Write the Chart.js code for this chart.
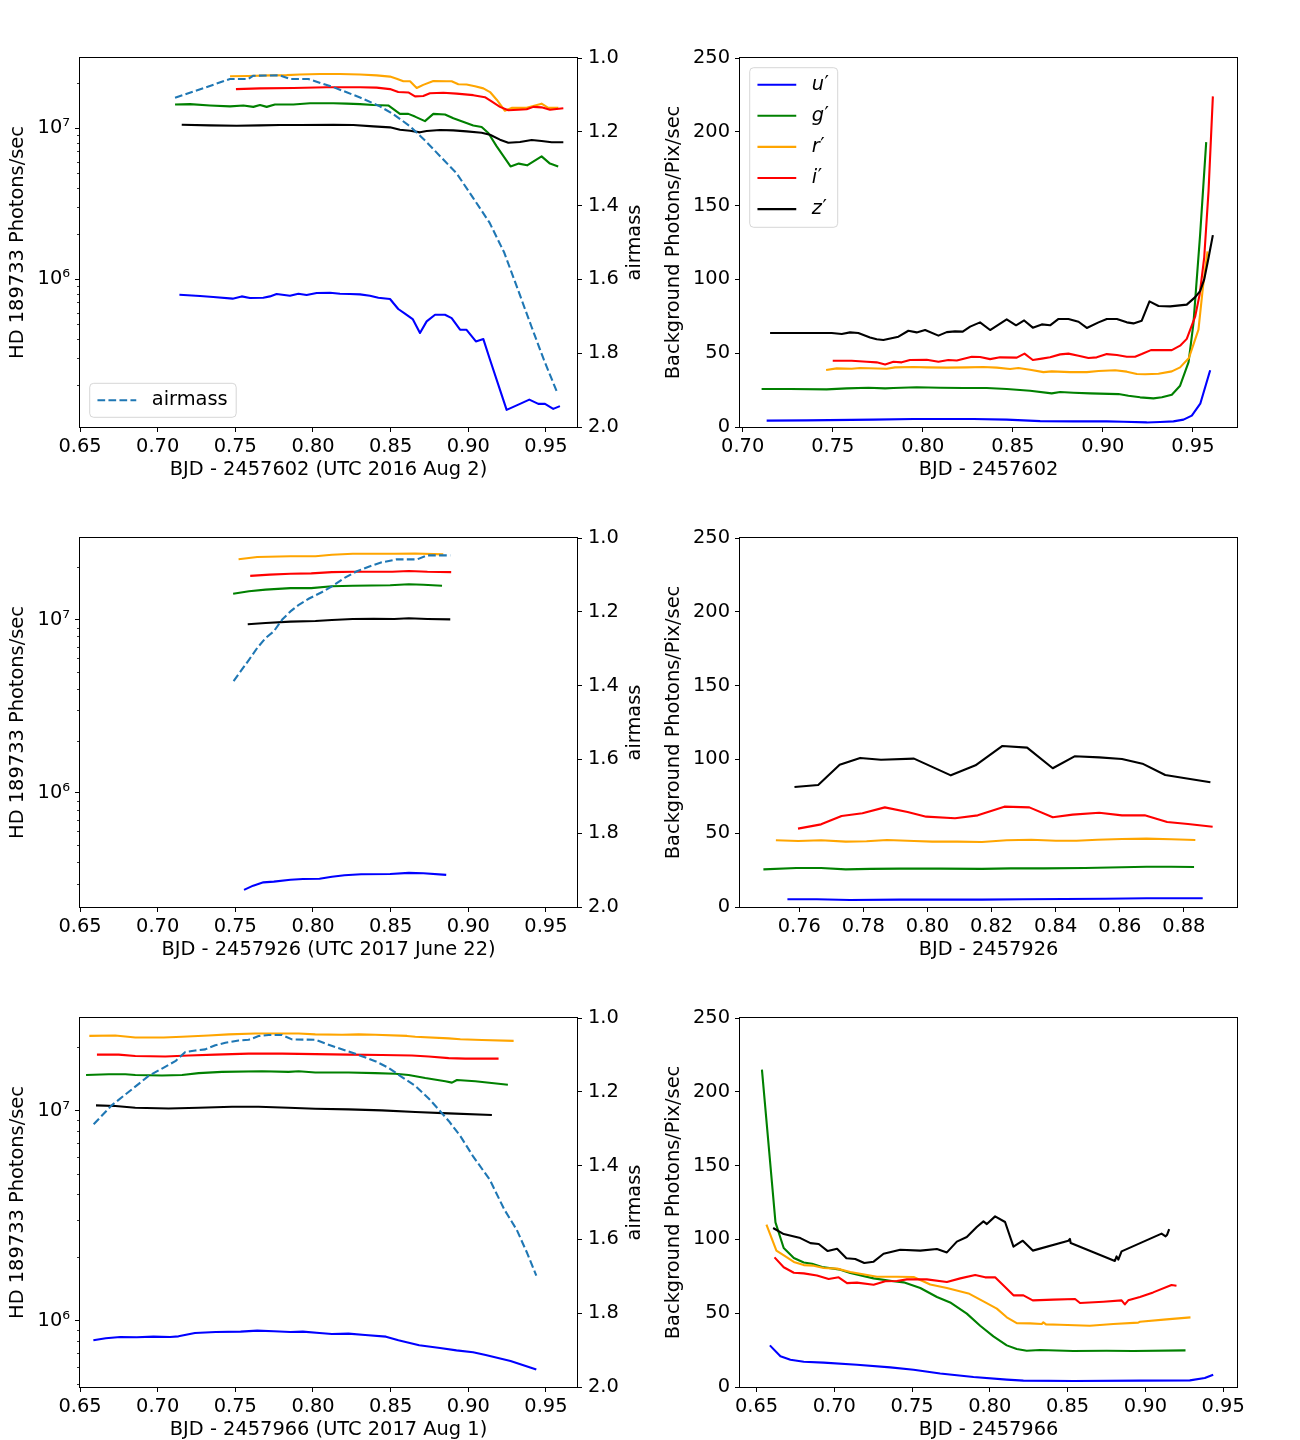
<!DOCTYPE html>
<html>
<head>
<meta charset="utf-8">
<title>HD 189733 photometry and background</title>
<script src="https://cdn.jsdelivr.net/npm/chart.js@4.4.1/dist/chart.umd.min.js"></script>
<style>
  html, body { margin: 0; padding: 0; background: #ffffff; overflow: hidden; }
  #fig { position: relative; width: 1300px; height: 1440px; background: #ffffff; overflow: hidden; }
  #fig canvas { position: absolute; }
</style>
</head>
<body>
<div id="fig">
  <canvas id="cA" width="660" height="448" style="left:0px;top:38px;width:660px;height:448px"></canvas>
  <canvas id="cB" width="640" height="448" style="left:660px;top:38px;width:640px;height:448px"></canvas>
  <canvas id="cC" width="660" height="448" style="left:0px;top:518px;width:660px;height:448px"></canvas>
  <canvas id="cD" width="640" height="448" style="left:660px;top:518px;width:640px;height:448px"></canvas>
  <canvas id="cE" width="660" height="448" style="left:0px;top:998px;width:660px;height:448px"></canvas>
  <canvas id="cF" width="640" height="448" style="left:660px;top:998px;width:640px;height:448px"></canvas>
</div>
<script>
// ======================= DATA =======================
// ---- Panel A: HD 189733 flux, BJD - 2457602 (UTC 2016 Aug 2) ----
const A_airmass_x = [0.7112,0.7466,0.7584,0.7616,0.7788,0.7852,0.7970,0.8131,0.8217,0.8303,0.8431,0.8517,0.8625,0.8732,0.8850,0.8924,0.9031,0.9138,0.9232,0.9312,0.9406,0.9486,0.9569];
const A_airmass   = [1.108,1.057,1.057,1.048,1.047,1.057,1.057,1.079,1.093,1.107,1.131,1.152,1.185,1.228,1.280,1.312,1.379,1.447,1.528,1.619,1.727,1.817,1.903];
const A_u_x = [0.7140,0.7273,0.7358,0.7483,0.7541,0.7594,0.7680,0.7723,0.7766,0.7852,0.7906,0.7959,0.8024,0.8110,0.8174,0.8238,0.8303,0.8367,0.8421,0.8496,0.8549,0.8592,0.8642,0.8689,0.8732,0.8786,0.8850,0.8893,0.8947,0.8989,0.9049,0.9097,0.9140,0.9247,0.9333,0.9393,0.9451,0.9494,0.9547,0.9590];
const A_u   = [7.87e5,7.71e5,7.60e5,7.41e5,7.67e5,7.48e5,7.52e5,7.67e5,7.95e5,7.75e5,7.99e5,7.83e5,8.07e5,8.11e5,7.99e5,7.95e5,7.91e5,7.75e5,7.52e5,7.37e5,6.33e5,5.89e5,5.43e5,4.39e5,5.24e5,5.80e5,5.80e5,5.51e5,4.62e5,4.61e5,3.86e5,4.00e5,2.92e5,1.36e5,1.49e5,1.59e5,1.49e5,1.49e5,1.38e5,1.44e5];
const A_g_x = [0.7112,0.7208,0.7337,0.7466,0.7552,0.7616,0.7659,0.7702,0.7755,0.7874,0.7981,0.8131,0.8217,0.8303,0.8389,0.8485,0.8560,0.8614,0.8657,0.8721,0.8775,0.8850,0.8904,0.8957,0.9032,0.9086,0.9129,0.9183,0.9272,0.9325,0.9379,0.9472,0.9526,0.9579];
const A_g   = [1.43e7,1.44e7,1.41e7,1.39e7,1.41e7,1.38e7,1.42e7,1.38e7,1.43e7,1.43e7,1.46e7,1.46e7,1.45e7,1.44e7,1.42e7,1.41e7,1.24e7,1.24e7,1.19e7,1.11e7,1.24e7,1.23e7,1.16e7,1.11e7,1.04e7,1.015e7,9.27e6,7.56e6,5.57e6,5.81e6,5.66e6,6.49e6,5.81e6,5.57e6];
const A_r_x = [0.7466,0.7584,0.7723,0.7831,0.7916,0.8045,0.8174,0.8303,0.8410,0.8496,0.8539,0.8582,0.8625,0.8668,0.8710,0.8775,0.8861,0.8893,0.8936,0.8989,0.9043,0.9097,0.9140,0.9183,0.9236,0.9279,0.9333,0.9376,0.9419,0.9472,0.9515,0.9580];
const A_r   = [2.20e7,2.21e7,2.23e7,2.24e7,2.26e7,2.28e7,2.28e7,2.26e7,2.23e7,2.19e7,2.12e7,2.04e7,2.04e7,1.84e7,1.93e7,2.05e7,2.04e7,2.04e7,1.95e7,1.94e7,1.89e7,1.83e7,1.73e7,1.54e7,1.30e7,1.36e7,1.36e7,1.36e7,1.40e7,1.45e7,1.36e7,1.36e7];
const A_i_x = [0.7504,0.7659,0.7874,0.8088,0.8303,0.8410,0.8496,0.8549,0.8614,0.8657,0.8710,0.8753,0.8839,0.8925,0.9032,0.9107,0.9150,0.9204,0.9258,0.9322,0.9376,0.9419,0.9472,0.9526,0.9612];
const A_i   = [1.81e7,1.83e7,1.84e7,1.86e7,1.86e7,1.85e7,1.81e7,1.73e7,1.72e7,1.62e7,1.63e7,1.70e7,1.71e7,1.69e7,1.65e7,1.60e7,1.50e7,1.38e7,1.31e7,1.32e7,1.33e7,1.38e7,1.37e7,1.32e7,1.35e7];
const A_z_x = [0.7155,0.7337,0.7509,0.7659,0.7788,0.7916,0.8131,0.8260,0.8389,0.8496,0.8560,0.8625,0.8689,0.8732,0.8818,0.8904,0.8989,0.9086,0.9140,0.9204,0.9258,0.9333,0.9408,0.9472,0.9537,0.9612];
const A_z   = [1.052e7,1.041e7,1.036e7,1.041e7,1.046e7,1.046e7,1.052e7,1.046e7,1.025e7,1.010e7,9.74e6,9.60e6,9.36e6,9.55e6,9.70e6,9.65e6,9.50e6,9.31e6,9.03e6,8.37e6,7.99e6,8.07e6,8.32e6,8.20e6,8.04e6,8.04e6];

// ---- Panel B: background, BJD - 2457602 ----
const B_u_x = [0.7133,0.7355,0.7726,0.7948,0.8281,0.8466,0.8652,0.8837,0.9022,0.9115,0.9244,0.9318,0.9392,0.9448,0.9494,0.9541,0.9596];
const B_u   = [4.3,4.5,5.0,5.4,5.4,5.0,4.0,3.8,3.8,3.6,3.1,3.4,3.8,5.0,7.7,15.8,38.4];
const B_g_x = [0.7105,0.7263,0.7466,0.7578,0.7698,0.7791,0.7837,0.7966,0.8096,0.8226,0.8355,0.8466,0.8596,0.8716,0.8763,0.8837,0.8929,0.9087,0.9142,0.9207,0.9281,0.9328,0.9383,0.9429,0.9476,0.9503,0.9540,0.9574];
const B_g   = [25.7,25.7,25.5,26.2,26.6,26.2,26.4,26.9,26.6,26.4,26.4,25.7,24.6,22.8,23.7,23.2,22.8,22.3,21.2,20.1,19.4,20.1,21.9,28.0,44,70,130,193];
const B_r_x = [0.7463,0.7522,0.7605,0.7652,0.7800,0.7846,0.7948,0.8022,0.8133,0.8244,0.8337,0.8411,0.8485,0.8531,0.8596,0.8670,0.8716,0.8818,0.8911,0.8976,0.9068,0.9133,0.9189,0.9235,0.9309,0.9383,0.9429,0.9478,0.9531,0.9556,0.9581];
const B_r   = [38.6,39.7,39.5,40.0,39.5,40.4,40.6,40.4,40.2,40.4,40.6,40.2,39.3,40.0,38.8,37.2,37.7,37.2,37.2,37.9,38.4,37.5,35.9,35.7,36.1,37.7,40.4,46.8,66,95,119];
const B_i_x = [0.7500,0.7605,0.7689,0.7744,0.7791,0.7837,0.7883,0.7929,0.8022,0.8087,0.8142,0.8189,0.8272,0.8318,0.8374,0.8429,0.8522,0.8565,0.8611,0.8661,0.8707,0.8763,0.8809,0.8865,0.8920,0.8966,0.9022,0.9078,0.9133,0.9179,0.9216,0.9267,0.9318,0.9383,0.9429,0.9466,0.9513,0.9538,0.9563,0.9587,0.9611];
const B_i   = [44.9,44.9,44.2,43.8,42.4,44.2,43.8,45.4,45.6,44.2,45.4,45.1,47.6,47.4,46.0,47.2,47.0,49.7,45.4,46.3,47.2,49.2,49.7,48.3,46.7,47.2,49.4,48.8,47.6,47.6,49.4,52.1,52.1,52.1,55.1,59.7,75,90,115,160,224];
const B_z_x = [0.7152,0.7494,0.7550,0.7596,0.7642,0.7707,0.7744,0.7781,0.7865,0.7920,0.7966,0.8013,0.8087,0.8133,0.8179,0.8222,0.8263,0.8318,0.8374,0.8466,0.8518,0.8563,0.8611,0.8661,0.8707,0.8754,0.8809,0.8865,0.8911,0.8976,0.9022,0.9078,0.9133,0.9170,0.9216,0.9259,0.9309,0.9374,0.9466,0.9513,0.9540,0.9563,0.9587,0.9611];
const B_z   = [63.7,63.7,63.0,64.1,63.7,60.7,59.4,58.9,61.2,65.2,64.1,65.7,61.9,64.3,64.8,64.6,68.0,70.9,65.7,72.9,68.9,72.2,67.3,69.5,68.9,73.2,73.2,71.3,67.1,70.9,73.2,73.2,70.9,70.2,72.0,85.1,82.0,81.7,82.9,88.0,92.1,100,114.7,130];

// ---- Panel C: HD 189733 flux, BJD - 2457926 (UTC 2017 June 22) ----
const C_airmass_x = [0.7489,0.7535,0.7588,0.7641,0.7695,0.7748,0.7802,0.7855,0.7909,0.7975,0.8056,0.8122,0.8203,0.8283,0.8363,0.8443,0.8537,0.8670,0.8737,0.8884];
const C_airmass   = [1.388,1.361,1.330,1.298,1.271,1.253,1.221,1.199,1.181,1.164,1.147,1.131,1.108,1.090,1.077,1.066,1.058,1.058,1.047,1.047];
const C_u_x = [0.7556,0.7615,0.7681,0.7748,0.7855,0.7935,0.8042,0.8122,0.8203,0.8310,0.8497,0.8617,0.8711,0.8858];
const C_u   = [2.76e5,2.92e5,3.05e5,3.08e5,3.16e5,3.19e5,3.20e5,3.29e5,3.35e5,3.40e5,3.41e5,3.46e5,3.44e5,3.37e5];
const C_g_x = [0.7486,0.7588,0.7695,0.7855,0.7989,0.8122,0.8256,0.8497,0.8617,0.8711,0.8831];
const C_g   = [1.41e7,1.46e7,1.49e7,1.52e7,1.52e7,1.56e7,1.57e7,1.58e7,1.60e7,1.59e7,1.57e7];
const C_r_x = [0.7521,0.7641,0.7855,0.8016,0.8122,0.8256,0.8523,0.8657,0.8839];
const C_r   = [2.23e7,2.30e7,2.32e7,2.32e7,2.37e7,2.40e7,2.40e7,2.41e7,2.38e7];
const C_i_x = [0.7596,0.7722,0.7855,0.7989,0.8122,0.8256,0.8510,0.8617,0.8737,0.8890];
const C_i   = [1.79e7,1.82e7,1.84e7,1.85e7,1.88e7,1.89e7,1.89e7,1.91e7,1.89e7,1.88e7];
const C_z_x = [0.7580,0.7695,0.7855,0.8016,0.8122,0.8256,0.8390,0.8523,0.8617,0.8737,0.8884];
const C_z   = [9.40e6,9.57e6,9.74e6,9.82e6,9.96e6,1.009e7,1.013e7,1.009e7,1.018e7,1.009e7,1.004e7];

// ---- Panel D: background, BJD - 2457926 ----
const D_u_x = [0.7563,0.7655,0.7758,0.7913,0.8170,0.8298,0.8427,0.8555,0.8684,0.8859];
const D_u   = [5.2,5.2,4.7,5.0,5.0,5.2,5.4,5.6,5.9,5.9];
const D_g_x = [0.7488,0.7591,0.7668,0.7745,0.7822,0.7913,0.8041,0.8170,0.8260,0.8363,0.8491,0.8607,0.8684,0.8761,0.8832];
const D_g   = [25.5,26.4,26.4,25.5,25.8,26.0,26.0,25.8,26.2,26.2,26.4,26.9,27.3,27.3,27.1];
const D_r_x = [0.7527,0.7597,0.7668,0.7745,0.7810,0.7874,0.7958,0.8015,0.8093,0.8170,0.8247,0.8324,0.8401,0.8465,0.8530,0.8607,0.8684,0.8761,0.8836];
const D_r   = [45.2,44.7,45.2,44.3,44.5,45.4,44.7,44.3,44.3,44.0,45.2,45.6,44.9,44.9,45.6,46.1,46.3,45.9,45.4];
const D_i_x = [0.7596,0.7668,0.7732,0.7797,0.7867,0.7938,0.7996,0.8086,0.8157,0.8240,0.8318,0.8391,0.8453,0.8536,0.8607,0.8678,0.8748,0.8813,0.8890];
const D_i   = [53.1,56.0,61.7,63.5,67.5,64.4,61.2,60.1,62.1,68.0,67.5,60.8,62.6,63.9,62.1,62.1,57.6,56.2,54.4];
const D_z_x = [0.7585,0.7659,0.7726,0.7790,0.7855,0.7958,0.8073,0.8150,0.8234,0.8311,0.8391,0.8459,0.8536,0.8607,0.8671,0.8742,0.8800,0.8883];
const D_z   = [81.3,82.7,96.4,101.0,99.8,100.5,89.2,96.0,109.1,108.0,94.0,102.1,101.4,100.3,97.1,89.4,87.4,84.5];

// ---- Panel E: HD 189733 flux, BJD - 2457966 (UTC 2017 Aug 1) ----
const E_airmass_x = [0.6588,0.6706,0.6835,0.6942,0.7028,0.7114,0.7178,0.7242,0.7307,0.7371,0.7436,0.7521,0.7586,0.7650,0.7715,0.7801,0.7865,0.8015,0.8144,0.8273,0.8401,0.8487,0.8573,0.8659,0.8745,0.8809,0.8874,0.8949,0.9031,0.9138,0.9232,0.9312,0.9379,0.9438];
const E_airmass   = [1.288,1.236,1.193,1.157,1.137,1.117,1.092,1.088,1.085,1.074,1.067,1.061,1.059,1.049,1.046,1.046,1.058,1.059,1.079,1.097,1.117,1.135,1.160,1.184,1.218,1.248,1.279,1.320,1.375,1.438,1.519,1.574,1.637,1.698];
const E_u_x = [0.6586,0.6666,0.6759,0.6866,0.6973,0.7080,0.7134,0.7240,0.7374,0.7534,0.7641,0.7748,0.7855,0.7935,0.8042,0.8122,0.8229,0.8336,0.8470,0.8550,0.8684,0.8818,0.8924,0.9031,0.9112,0.9272,0.9438];
const E_u   = [8.06e5,8.24e5,8.36e5,8.33e5,8.39e5,8.36e5,8.42e5,8.74e5,8.83e5,8.87e5,8.96e5,8.90e5,8.83e5,8.87e5,8.74e5,8.64e5,8.67e5,8.55e5,8.39e5,8.06e5,7.63e5,7.41e5,7.22e5,7.07e5,6.86e5,6.43e5,5.85e5];
const E_g_x = [0.6539,0.6685,0.6792,0.6856,0.7028,0.7157,0.7264,0.7414,0.7672,0.7843,0.7908,0.8015,0.8230,0.8401,0.8530,0.8616,0.8723,0.8852,0.8895,0.8927,0.9045,0.9255];
const E_g   = [1.48e7,1.49e7,1.49e7,1.48e7,1.47e7,1.48e7,1.51e7,1.53e7,1.54e7,1.53e7,1.54e7,1.52e7,1.52e7,1.51e7,1.50e7,1.48e7,1.43e7,1.38e7,1.36e7,1.40e7,1.38e7,1.33e7];
const E_r_x = [0.6560,0.6727,0.6856,0.7039,0.7157,0.7328,0.7457,0.7629,0.7801,0.7908,0.8015,0.8187,0.8294,0.8401,0.8605,0.8659,0.8874,0.8949,0.9088,0.9292];
const E_r   = [2.27e7,2.28e7,2.23e7,2.23e7,2.25e7,2.28e7,2.31e7,2.33e7,2.33e7,2.33e7,2.31e7,2.30e7,2.31e7,2.30e7,2.27e7,2.25e7,2.21e7,2.19e7,2.17e7,2.15e7];
const E_i_x = [0.6609,0.6749,0.6856,0.7049,0.7200,0.7371,0.7586,0.7801,0.8015,0.8230,0.8444,0.8637,0.8745,0.8874,0.8981,0.9195];
const E_i   = [1.85e7,1.85e7,1.82e7,1.81e7,1.83e7,1.85e7,1.87e7,1.87e7,1.86e7,1.85e7,1.84e7,1.83e7,1.81e7,1.78e7,1.77e7,1.77e7];
const E_z_x = [0.6603,0.6728,0.6856,0.7071,0.7264,0.7479,0.7650,0.7843,0.8015,0.8230,0.8444,0.8659,0.8874,0.9152];
const E_z   = [1.06e7,1.052e7,1.033e7,1.025e7,1.033e7,1.044e7,1.044e7,1.033e7,1.022e7,1.014e7,1.003e7,9.85e6,9.71e6,9.53e6];

// ---- Panel F: background, BJD - 2457966 ----
const F_u_x = [0.6586,0.6654,0.6718,0.6804,0.6932,0.7146,0.7360,0.7510,0.7681,0.7895,0.8109,0.8216,0.8537,0.8965,0.9286,0.9382,0.9436];
const F_u   = [28.2,20.8,18.5,17.1,16.5,15.1,13.3,11.7,9.2,6.8,5.0,4.3,4.1,4.3,4.5,6.1,8.3];
const F_g_x = [0.6535,0.6622,0.6675,0.6740,0.6804,0.6857,0.6922,0.7039,0.7103,0.7253,0.7381,0.7446,0.7553,0.7660,0.7745,0.7852,0.7938,0.8023,0.8109,0.8173,0.8237,0.8323,0.8537,0.8751,0.8922,0.9258];
const F_g   = [215,111.5,94.2,87.4,84.4,83.5,81.3,79.5,77.2,73.6,71.6,70.9,67.1,61.0,57.3,49.7,41.5,34.3,28.2,25.7,24.6,25.1,24.4,24.6,24.4,24.8];
const F_r_x = [0.6564,0.6628,0.6686,0.6740,0.6804,0.6868,0.6932,0.7018,0.7103,0.7275,0.7403,0.7510,0.7617,0.7724,0.7863,0.7959,0.8045,0.8109,0.8173,0.8259,0.8334,0.8344,0.8361,0.8451,0.8643,0.8794,0.8954,0.8965,0.9136,0.9290];
const F_r   = [110.0,92.4,88.5,84.7,82.6,82.2,80.6,80.2,77.9,74.7,74.7,74.5,69.5,67.1,63.4,58.0,53.1,47.2,43.3,43.1,42.7,43.8,42.4,42.2,41.5,42.7,43.6,44.2,45.8,47.2];
const F_i_x = [0.6616,0.6675,0.6740,0.6804,0.6889,0.6964,0.7028,0.7082,0.7146,0.7253,0.7328,0.7403,0.7467,0.7595,0.7724,0.7810,0.7906,0.7970,0.8034,0.8152,0.8216,0.8276,0.8408,0.8548,0.8580,0.8730,0.8847,0.8868,0.8890,0.8965,0.9050,0.9168,0.9200];
const F_i   = [87.8,81.1,77.4,77.0,75.6,73.2,74.3,70.4,70.7,69.3,71.6,71.8,72.9,72.9,71.1,73.6,75.9,74.3,74.3,62.1,62.1,58.7,59.2,59.6,56.9,57.8,58.7,56.0,58.7,61.0,64.1,69.1,68.6];
const F_z_x = [0.6607,0.6675,0.6782,0.6847,0.6900,0.6958,0.7018,0.7078,0.7135,0.7193,0.7253,0.7317,0.7424,0.7553,0.7660,0.7724,0.7788,0.7852,0.7916,0.7959,0.7981,0.8034,0.8098,0.8152,0.8212,0.8276,0.8505,0.8515,0.8520,0.8804,0.8815,0.8826,0.8847,0.9104,0.9130,0.9140,0.9153];
const F_z   = [107.7,103.6,100.9,97.5,96.9,92.1,93.7,87.2,86.7,84.0,84.9,90.3,93.0,92.4,93.5,91.2,98.5,101.6,108.4,112.2,110.4,115.6,111.8,95.1,99.1,92.4,99.1,100.3,97.5,85.4,88.5,86.3,91.9,103.9,102.1,103.2,107.0];

// ---- Tick values and labels ----
const xTicksFlux   = [0.65,0.70,0.75,0.80,0.85,0.90,0.95];
const xTicksB      = [0.70,0.75,0.80,0.85,0.90,0.95];
const xTicksD      = [0.76,0.78,0.80,0.82,0.84,0.86,0.88];
const xTicksF      = [0.65,0.70,0.75,0.80,0.85,0.90,0.95];
const fluxMajor    = [1e5,1e6,1e7];
const fluxMinor    = [2e5,3e5,4e5,5e5,6e5,7e5,8e5,9e5,2e6,3e6,4e6,5e6,6e6,7e6,8e6,9e6,2e7,3e7];
const airmassTicks = [1.0,1.2,1.4,1.6,1.8,2.0];
const bgTicks      = [0,50,100,150,200,250];
const bandLabels   = ['u\u2032','g\u2032','r\u2032','i\u2032','z\u2032'];
const airmassLabel = 'airmass';
const fluxTitle    = 'HD 189733 Photons/sec';
const bgTitle      = 'Background Photons/Pix/sec';
const xTitles = {
  A: 'BJD - 2457602 (UTC 2016 Aug 2)', B: 'BJD - 2457602',
  C: 'BJD - 2457926 (UTC 2017 June 22)', D: 'BJD - 2457926',
  E: 'BJD - 2457966 (UTC 2017 Aug 1)', F: 'BJD - 2457966'
};

// ======================= STYLE / HELPERS =======================
const FONT = "'DejaVu Sans', 'Liberation Sans', sans-serif";
const FS = 19.4;
Chart.defaults.font.family = FONT;
Chart.defaults.font.size = FS;
Chart.defaults.color = '#000000';

const COL = { u: '#0000ff', g: '#008000', r: '#ffa500', i: '#ff0000', z: '#000000', air: '#1f77b4' };
const DASH = [7.7, 3.3];
const LW = 2.1;
const SUP = '\u2070\u00b9\u00b2\u00b3\u2074\u2075\u2076\u2077\u2078\u2079';
function sup(n) { return String(n).split('').map(c => SUP[+c]).join(''); }

function pts(xs, ys) {
  const n = Math.min(xs.length, ys.length), out = [];
  for (let k = 0; k < n; k++) out.push({ x: xs[k], y: ys[k] });
  return out;
}
function series(label, xs, ys, color, order, axis, dash, inLegend) {
  return {
    label, data: pts(xs, ys), borderColor: color, backgroundColor: color,
    borderWidth: LW, pointRadius: 0, pointHoverRadius: 0, tension: 0, fill: false,
    borderDash: dash || [], borderJoinStyle: 'round', borderCapStyle: 'butt',
    yAxisID: axis || 'y', order, inLegend: !!inLegend
  };
}
function bands(P, inLegend) {
  const xs = [P.u_x, P.g_x, P.r_x, P.i_x, P.z_x], ys = [P.u, P.g, P.r, P.i, P.z];
  const cs = [COL.u, COL.g, COL.r, COL.i, COL.z];
  return xs.map((x, k) => series(bandLabels[k], x, ys[k], cs[k], 5 - k, 'y', null, inLegend));
}
function tickGrid() {
  return { display: true, drawOnChartArea: false, drawTicks: true, tickLength: 5,
           color: '#000000', lineWidth: 1 };
}
function xScale(min, max, ticks, title) {
  return {
    type: 'linear', position: 'bottom', min, max,
    afterBuildTicks: s => { s.ticks = ticks.map(v => ({ value: v })); },
    afterFit: s => { s.height = 59; },
    ticks: { callback: v => Number(v).toFixed(2), padding: 3.5, maxRotation: 0, autoSkip: false, color: '#000' },
    grid: tickGrid(), border: { display: false },
    title: { display: true, text: title, color: '#000', padding: { top: 0, bottom: 4 } }
  };
}
function fluxScale(min, max) {
  return {
    type: 'logarithmic', position: 'left', min, max,
    afterBuildTicks: s => { s.ticks = fluxMajor.filter(v => v >= min && v <= max).map(v => ({ value: v })); },
    afterFit: s => { s.width = 80; },
    ticks: { callback: v => '10' + sup(Math.round(Math.log10(v))), padding: 5, autoSkip: false, color: '#000' },
    grid: tickGrid(), border: { display: false },
    title: { display: true, text: fluxTitle, color: '#000', padding: { top: 6, bottom: 0 } }
  };
}
function airmassScale() {
  return {
    type: 'linear', position: 'right', reverse: true, min: 1, max: 2,
    afterBuildTicks: s => { s.ticks = airmassTicks.map(v => ({ value: v })); },
    afterFit: s => { s.width = 83; },
    ticks: { callback: v => Number(v).toFixed(1), padding: 6, autoSkip: false, color: '#000' },
    grid: tickGrid(), border: { display: false },
    title: { display: false }
  };
}
function bgScale() {
  return {
    type: 'linear', position: 'left', min: 0, max: 250,
    afterBuildTicks: s => { s.ticks = bgTicks.map(v => ({ value: v })); },
    afterFit: s => { s.width = 80; },
    ticks: { callback: v => String(v), padding: 5, autoSkip: false, color: '#000' },
    grid: tickGrid(), border: { display: false },
    title: { display: true, text: bgTitle, color: '#000', padding: { top: 2, bottom: 0 } }
  };
}

function roundRect(ctx, x, y, w, h, r) {
  ctx.beginPath();
  ctx.moveTo(x + r, y); ctx.lineTo(x + w - r, y); ctx.arcTo(x + w, y, x + w, y + r, r);
  ctx.lineTo(x + w, y + h - r); ctx.arcTo(x + w, y + h, x + w - r, y + h, r);
  ctx.lineTo(x + r, y + h); ctx.arcTo(x, y + h, x, y + h - r, r);
  ctx.lineTo(x, y + r); ctx.arcTo(x, y, x + r, y, r); ctx.closePath();
}

// matplotlib-like decorations: minor log ticks, full frame, legend, right-hand label
function mplPlugin(cfg) {
  return {
    id: 'mplDecor',
    afterDatasetsDraw(chart) {
      const ctx = chart.ctx, a = chart.chartArea;
      ctx.save();
      if (cfg.log) {
        const ys = chart.scales.y;
        ctx.strokeStyle = '#000'; ctx.lineWidth = 0.8;
        fluxMinor.forEach(v => {
          if (v <= ys.min || v >= ys.max) return;
          const y = Math.round(ys.getPixelForValue(v)) + 0.5;
          ctx.beginPath(); ctx.moveTo(a.left - 3, y); ctx.lineTo(a.left, y); ctx.stroke();
        });
      }
      ctx.strokeStyle = '#000'; ctx.lineWidth = 1;
      ctx.strokeRect(Math.round(a.left) - 0.5, Math.round(a.top) - 0.5,
                     Math.round(a.right - a.left) + 1, Math.round(a.bottom - a.top) + 1);
      if (cfg.rightTitle) {
        ctx.save();
        ctx.translate(a.right + 57.5, (a.top + a.bottom) / 2);
        ctx.rotate(-Math.PI / 2);
        ctx.fillStyle = '#000'; ctx.font = FS + 'px ' + FONT;
        ctx.textAlign = 'center'; ctx.textBaseline = 'middle';
        ctx.fillText(cfg.rightTitle, 0, 0);
        ctx.restore();
      }
      ctx.restore();
    },
    afterDraw(chart) {
      const L = cfg.legend;
      if (!L) return;
      const ctx = chart.ctx, a = chart.chartArea;
      const items = chart.data.datasets.filter(d => d.inLegend);
      const pad = 0.4 * FS, axpad = 0.5 * FS;
      const fx = a.left + axpad;
      const fy = L.corner === 'lower' ? a.bottom - axpad - L.h : a.top + axpad;
      ctx.save();
      roundRect(ctx, fx, fy, L.w, L.h, 4);
      ctx.fillStyle = 'rgba(255,255,255,0.8)'; ctx.fill();
      ctx.strokeStyle = 'rgba(204,204,204,0.8)'; ctx.lineWidth = 1; ctx.stroke();
      items.forEach((d, k) => {
        const y = fy + L.first + k * L.step;
        ctx.setLineDash(d.borderDash || []);
        ctx.strokeStyle = d.borderColor; ctx.lineWidth = LW;
        ctx.beginPath(); ctx.moveTo(fx + pad, y); ctx.lineTo(fx + pad + 2 * FS, y); ctx.stroke();
        ctx.setLineDash([]);
        ctx.fillStyle = '#000';
        ctx.textAlign = 'left'; ctx.textBaseline = 'middle';
        const tx = fx + pad + 2 * FS + 0.8 * FS;
        if (L.italic) {
          // math-style label: italic letter followed by an upright prime
          const letter = d.label.slice(0, 1), prime = d.label.slice(1);
          ctx.font = 'italic ' + FS + 'px ' + FONT;
          ctx.fillText(letter, tx, y);
          const w = ctx.measureText(letter).width;
          ctx.font = FS + 'px ' + FONT;
          ctx.fillText(prime, tx + w + 0.5, y - 1);
        } else {
          ctx.font = FS + 'px ' + FONT;
          ctx.fillText(d.label, tx, y);
        }
      });
      ctx.restore();
    }
  };
}

function makeChart(id, datasets, scales, padRight, cfg) {
  return new Chart(document.getElementById(id), {
    type: 'line',
    data: { datasets },
    options: {
      responsive: false, animation: false, devicePixelRatio: 1, events: [],
      layout: { padding: { top: 20, left: 0, right: padRight, bottom: 0 } },
      plugins: { legend: { display: false }, tooltip: { enabled: false } },
      scales
    },
    plugins: [mplPlugin(cfg)]
  });
}

// ======================= CHARTS =======================
const PA = { u_x: A_u_x, u: A_u, g_x: A_g_x, g: A_g, r_x: A_r_x, r: A_r, i_x: A_i_x, i: A_i, z_x: A_z_x, z: A_z };
const PB = { u_x: B_u_x, u: B_u, g_x: B_g_x, g: B_g, r_x: B_r_x, r: B_r, i_x: B_i_x, i: B_i, z_x: B_z_x, z: B_z };
const PC = { u_x: C_u_x, u: C_u, g_x: C_g_x, g: C_g, r_x: C_r_x, r: C_r, i_x: C_i_x, i: C_i, z_x: C_z_x, z: C_z };
const PD = { u_x: D_u_x, u: D_u, g_x: D_g_x, g: D_g, r_x: D_r_x, r: D_r, i_x: D_i_x, i: D_i, z_x: D_z_x, z: D_z };
const PE = { u_x: E_u_x, u: E_u, g_x: E_g_x, g: E_g, r_x: E_r_x, r: E_r, i_x: E_i_x, i: E_i, z_x: E_z_x, z: E_z };
const PF = { u_x: F_u_x, u: F_u, g_x: F_g_x, g: F_g, r_x: F_r_x, r: F_r, i_x: F_i_x, i: F_i, z_x: F_z_x, z: F_z };

function fluxPanel(id, P, amx, am, ymin, ymax, title, withLegend) {
  const ds = bands(P, false);
  ds.push(series(airmassLabel, amx, am, COL.air, 0, 'y2', DASH, withLegend));
  makeChart(id, ds, {
    x: xScale(0.65, 0.97, xTicksFlux, title),
    y: fluxScale(ymin, ymax),
    y2: airmassScale()
  }, 0, {
    log: true, rightTitle: airmassLabel,
    legend: withLegend ? { corner: 'lower', w: 146.5, h: 34, first: 17, step: 0, italic: false } : null
  });
}
function bgPanel(id, P, xmin, xmax, ticks, title, withLegend) {
  makeChart(id, bands(P, withLegend), {
    x: xScale(xmin, xmax, ticks, title),
    y: bgScale()
  }, 63, {
    log: false,
    legend: withLegend ? { corner: 'upper', w: 88, h: 159.6, first: 17, step: 31.1, italic: true } : null
  });
}

fluxPanel('cA', PA, A_airmass_x, A_airmass, 1.047e5, 2.908e7, xTitles.A, true);
bgPanel('cB', PB, 0.6985, 0.9745, xTicksB, xTitles.B, true);
fluxPanel('cC', PC, C_airmass_x, C_airmass, 2.199e5, 2.959e7, xTitles.C, false);
bgPanel('cD', PD, 0.7415, 0.8966, xTicksD, xTitles.D, false);
fluxPanel('cE', PE, E_airmass_x, E_airmass, 4.831e5, 2.763e7, xTitles.E, false);
bgPanel('cF', PF, 0.6394, 0.9589, xTicksF, xTitles.F, false);
</script>
</body>
</html>
